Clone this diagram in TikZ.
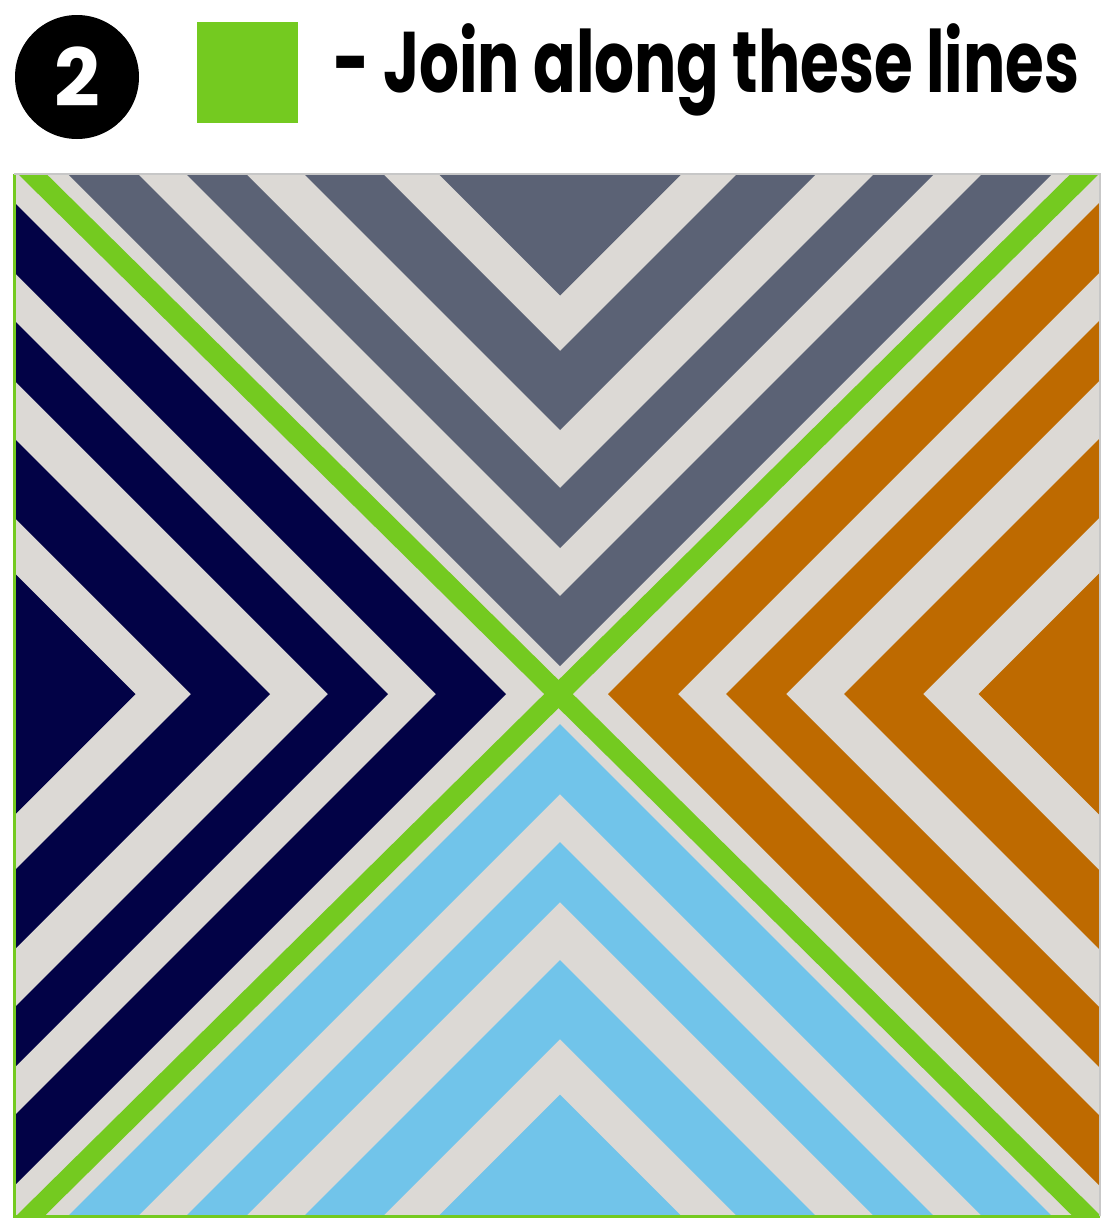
\documentclass[tikz,border=0pt]{standalone}
\usepackage{fontspec}
\newfontfamily\poppins{Poppins}
\usepackage{tikz}

\definecolor{slate}{RGB}{91,98,117}
\definecolor{navy}{RGB}{2,2,70}
\definecolor{rust}{RGB}{190,106,0}
\definecolor{sky}{RGB}{113,196,234}
\definecolor{linen}{RGB}{220,217,213}
\definecolor{seam}{RGB}{116,202,32}

\begin{document}
\begin{tikzpicture}[x=0.5pt, y=-0.5pt]
        % Block edges and centre, in pixels of the sheet
        \pgfmathsetmacro{\lft}{14}
        \pgfmathsetmacro{\rgt}{1100}
        \pgfmathsetmacro{\tp}{174}
        \pgfmathsetmacro{\btm}{1216}
        \pgfmathsetmacro{\cx}{560}
        \pgfmathsetmacro{\cy}{694}

        \useasboundingbox (0,0) rectangle (1118,1231);

        % Heading: step badge, swatch and caption
        \node (badge) [circle, fill=black, minimum size=62pt, inner sep=0,
            text=white, font=\poppins\bfseries\fontsize{40}{40}\selectfont] at (77,77) {2};
        \node (swatch) [fill=seam, minimum size=50.5pt, inner sep=0] at (247.5,72) {};
        \node (caption) [anchor=base west, inner sep=0] at (333,92)
            {\scalebox{0.73}[1]{\poppins\bfseries\fontsize{43}{43}\selectfont - Join along these lines}};

        % Light base of the block
        \fill[linen] (\lft,\tp) rectangle (\rgt,\btm);

        % Chevron bands, measured from each outer edge
        \foreach \a/\b in {0/121.5, 177/256, 314/374, 422/492} {
            % top
            \fill[slate] (\cx-\a,\tp) -- (\cx,\tp+\a) -- (\cx+\a,\tp)
                -- (\cx+\b,\tp) -- (\cx,\tp+\b) -- (\cx-\b,\tp) -- cycle;
            % left
            \fill[navy] (\lft,\cy-\a) -- (\lft+\a,\cy) -- (\lft,\cy+\a)
                -- (\lft,\cy+\b) -- (\lft+\b,\cy) -- (\lft,\cy-\b) -- cycle;
            % right
            \fill[rust] (\rgt,\cy-\a) -- (\rgt-\a,\cy) -- (\rgt,\cy+\a)
                -- (\rgt,\cy+\b) -- (\rgt-\b,\cy) -- (\rgt,\cy-\b) -- cycle;
            % bottom
            \fill[sky] (\cx-\a,\btm) -- (\cx,\btm-\a) -- (\cx+\a,\btm)
                -- (\cx+\b,\btm) -- (\cx,\btm-\b) -- (\cx-\b,\btm) -- cycle;
        }

        % Seams along the diagonals
        \begin{scope}
            \clip (\lft,\tp) rectangle (\rgt,\btm);
            \draw[seam, line width=10pt] (12,154) -- (1107,1236);
            \draw[seam, line width=10pt] (1105,154) -- (10,1236);
        \end{scope}

        % Outline of the block
        \draw[seam, line width=1.5pt] (\lft,\tp) -- (\lft,\btm) -- (\rgt,\btm);
        \draw[black!22, line width=1pt] (\lft,\tp) -- (\rgt,\tp) -- (\rgt,\btm);
\end{tikzpicture}
\end{document}
